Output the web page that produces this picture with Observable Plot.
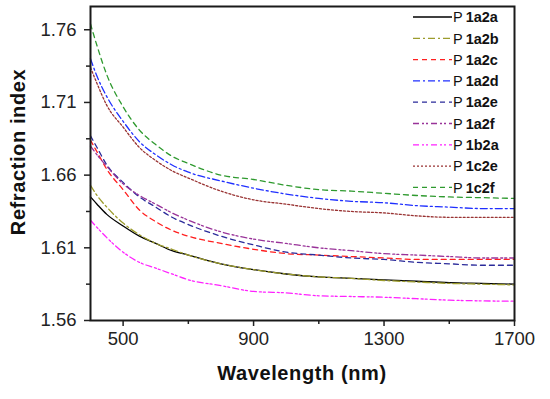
<!DOCTYPE html>
<html><head><meta charset="utf-8">
<script src="https://cdn.jsdelivr.net/npm/d3@7"></script>
<script src="https://cdn.jsdelivr.net/npm/@observablehq/plot@0.6"></script>
<style>
html,body{margin:0;padding:0;background:#fff;}
#chart{position:relative;width:550px;height:399px;}
</style></head>
<body><div id="chart"></div>
<script>
const wavelength = [400, 420, 450, 500, 550, 600, 650, 700, 800, 900, 1000, 1100, 1200, 1300, 1400, 1500, 1600, 1700];
const seriesNames = ["P1a2a","P1a2b","P1a2c","P1a2d","P1a2e","P1a2f","P1b2a","P1c2e","P1c2f"];
const P1a2a = [1.645,1.640,1.633,1.625,1.618,1.613,1.608,1.605,1.599,1.595,1.592,1.590,1.589,1.588,1.587,1.586,1.5855,1.585];
const P1a2b = [1.653,1.646,1.638,1.627,1.619,1.613,1.609,1.605,1.599,1.595,1.592,1.590,1.589,1.5875,1.5865,1.5855,1.585,1.5845];
const P1a2c = [1.684,1.676,1.664,1.650,1.636,1.628,1.622,1.618,1.613,1.609,1.606,1.605,1.604,1.603,1.602,1.602,1.602,1.602];
const P1a2d = [1.740,1.728,1.714,1.697,1.683,1.674,1.667,1.662,1.656,1.651,1.647,1.644,1.642,1.641,1.639,1.638,1.637,1.637];
const P1a2e = [1.687,1.679,1.667,1.655,1.645,1.638,1.631,1.626,1.618,1.612,1.607,1.605,1.603,1.602,1.600,1.599,1.598,1.598];
const P1a2f = [1.680,1.674,1.666,1.654,1.646,1.640,1.634,1.629,1.621,1.616,1.613,1.610,1.608,1.606,1.605,1.604,1.603,1.603];
const P1b2a = [1.629,1.624,1.617,1.607,1.600,1.596,1.592,1.588,1.584,1.580,1.579,1.577,1.5765,1.576,1.575,1.574,1.5735,1.5733];
const P1c2e = [1.734,1.723,1.708,1.693,1.679,1.670,1.663,1.658,1.649,1.643,1.640,1.637,1.635,1.634,1.632,1.631,1.631,1.631];
const P1c2f = [1.764,1.749,1.729,1.707,1.691,1.681,1.673,1.668,1.660,1.657,1.653,1.650,1.649,1.6475,1.646,1.645,1.6445,1.644];
const seriesValues = [P1a2a,P1a2b,P1a2c,P1a2d,P1a2e,P1a2f,P1b2a,P1c2e,P1c2f];
const xTicks = [500, 900, 1300, 1700];
const xMinorTicks = [700, 1100, 1500];
const yTicks = [1.56, 1.61, 1.66, 1.71, 1.76];
const yMinorTicks = [1.585, 1.635, 1.685, 1.735];
const xTitle = "Wavelength (nm)";
const yTitle = "Refraction index";

const styles = [
  {stroke:"#000000", dash:null},
  {stroke:"#9c9c2c", dash:"7,3,2,3"},
  {stroke:"#ff2020", dash:"5,4"},
  {stroke:"#1f2fff", dash:"7,3,2,3"},
  {stroke:"#2a2a9a", dash:"5,4"},
  {stroke:"#993399", dash:"6,3,2,2,2,3"},
  {stroke:"#ff22ff", dash:"6,3,2,2,2,3"},
  {stroke:"#993333", dash:"2,2"},
  {stroke:"#2f9a2f", dash:"5,4"}
];

const data = seriesNames.map((name, i) => wavelength.map((w, j) => ({name, x: w, y: seriesValues[i][j]})));

const lineMarks = data.map((d, i) => Plot.line(d, {
  x: "x", y: "y", stroke: styles[i].stroke, strokeWidth: 1.3,
  strokeDasharray: styles[i].dash || undefined, curve: "monotone-x"
}));

const plot = Plot.plot({
  width: 550, height: 399,
  marginLeft: 90, marginRight: 36, marginTop: 6, marginBottom: 79,
  style: {fontFamily: "'Liberation Sans', Arial, sans-serif", fontSize: "18px", color: "#222", background: "#fff"},
  x: {domain: [400, 1700]},
  y: {domain: [1.56, 1.776]},
  marks: [
    ...lineMarks,
    Plot.axisX({ticks: xTicks, tickSize: 6, tickPadding: 5, tickFormat: d => String(d), label: null, fontSize: 18.5, strokeWidth: 1.5}),
    Plot.axisX({ticks: xMinorTicks, tickSize: 4, tickFormat: () => "", label: null, strokeWidth: 1.5}),
    Plot.axisY({ticks: yTicks, tickSize: 6, tickPadding: 8, tickFormat: d => d.toFixed(2), label: null, fontSize: 18.5, strokeWidth: 1.5}),
    Plot.axisY({ticks: yMinorTicks, tickSize: 4, tickFormat: () => "", label: null, strokeWidth: 1.5}),
    Plot.frame({stroke: "#1a1a1a", strokeWidth: 2})
  ]
});
document.getElementById("chart").appendChild(plot);

const svg = d3.select(plot);
// axis titles
svg.append("text").attr("x", 302).attr("y", 380).attr("text-anchor", "middle")
  .attr("font-weight", "bold").attr("font-size", 20).attr("letter-spacing", "0.6px")
  .attr("fill", "#111").text(xTitle);
svg.append("text").attr("transform", "translate(25,152) rotate(-90)").attr("text-anchor", "middle")
  .attr("font-weight", "bold").attr("font-size", 20).attr("letter-spacing", "0.6px")
  .attr("fill", "#111").text(yTitle);

// legend inside the frame, top right
const lg = svg.append("g").attr("class", "legend");
seriesNames.forEach((name, i) => {
  const y = 17 + i * 21.3;
  lg.append("line").attr("x1", 413).attr("x2", 452).attr("y1", y).attr("y2", y)
    .attr("stroke", styles[i].stroke).attr("stroke-width", 1.3)
    .attr("stroke-dasharray", styles[i].dash);
  const t = lg.append("text").attr("x", 453).attr("y", y).attr("dy", "0.36em")
    .attr("text-anchor", "start").attr("font-size", 14.5).attr("fill", "#111");
  t.append("tspan").text(name.slice(0, 1));
  t.append("tspan").attr("font-weight", "bold").attr("dx", 3).text(name.slice(1));
});
</script>
</body></html>
